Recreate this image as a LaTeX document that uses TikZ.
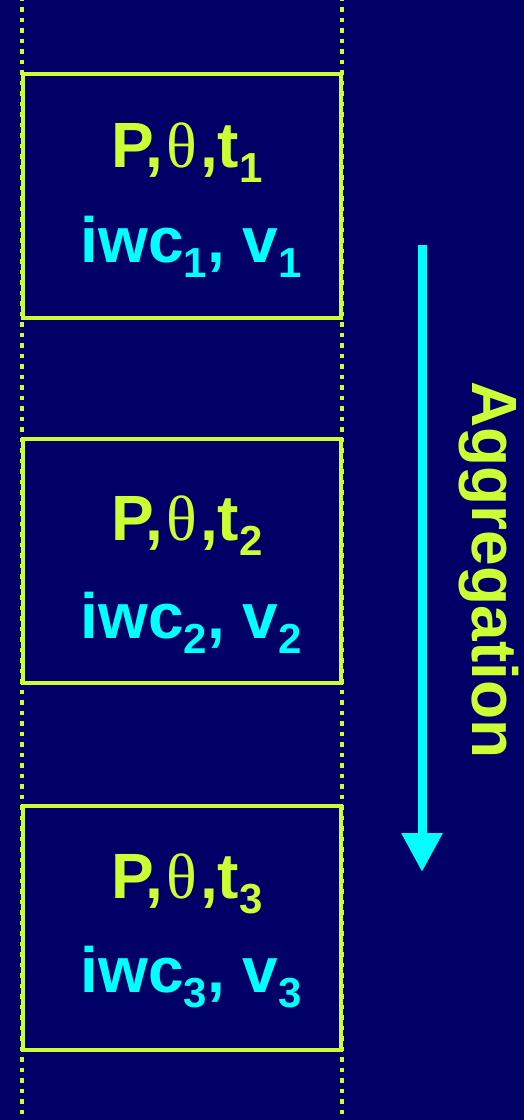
\documentclass[tikz,border=0pt]{standalone}
\usepackage{fontspec}
\setmainfont{Liberation Sans}
\newfontfamily\thetafont{Liberation Serif}
\usetikzlibrary{arrows.meta}
\definecolor{bgnavy}{RGB}{0,0,102}
\definecolor{ygreen}{RGB}{204,255,51}
\definecolor{aqua}{RGB}{0,255,255}
\newcommand{\subnum}[1]{\raisebox{-15bp}{\fontsize{42bp}{42bp}\selectfont #1}}
\newcommand{\ptline}[1]{P,\hspace{3bp}{\thetafont\mdseries θ}\hspace{3bp},t\subnum{#1}}
\newcommand{\iwline}[1]{iwc\subnum{#1}, v\subnum{#1}}
\begin{document}
\begin{tikzpicture}[x=1bp,y=-1bp,
  boxframe/.style={draw=ygreen, line width=4bp, minimum width=317.5bp, minimum height=244bp, inner sep=0pt, outer sep=0pt},
  guideline/.style={draw=ygreen, line width=4bp, dash pattern=on 4.5bp off 6bp},
  bigtext/.style={font=\fontsize{64bp}{70bp}\selectfont\bfseries, inner sep=0pt, anchor=base west},
  ptext/.style={bigtext, text=ygreen},
  itext/.style={bigtext, text=aqua},
  flowarrow/.style={draw=aqua, line width=9bp, -{Triangle[width=39bp,length=39bp]}}]
\fill[bgnavy] (0,0) rectangle (524,1120);
\useasboundingbox (0,0) rectangle (524,1120);
% dotted guide lines
\coordinate (lt) at (22,-3.5);
\coordinate (lb) at (22,1125);
\coordinate (rt) at (342,-3.5);
\coordinate (rb) at (342,1125);
\draw[guideline] (lt) -- (lb);
\draw[guideline] (rt) -- (rb);
% boxes
\node[boxframe] (b1) at (182.25,196.25) {};
\node[boxframe] (b2) at (182.25,561.2) {};
\node[boxframe] (b3) at (182.25,927.5) {};
% texts
\node[ptext] (p1) at (111,167) {\ptline{1}};
\node[itext] (i1) at (80.5,262) {\iwline{1}};
\node[ptext] (p2) at (111,540) {\ptline{2}};
\node[itext] (i2) at (80.5,638) {\iwline{2}};
\node[ptext] (p3) at (111,898) {\ptline{3}};
\node[itext] (i3) at (80.5,992) {\iwline{3}};
% aggregation arrow
\coordinate (as) at (422,245);
\coordinate (ae) at (422,872);
\draw[flowarrow] (as) -- (ae);
\node[font=\fontsize{64bp}{70bp}\selectfont\bfseries, text=ygreen, inner sep=0pt, anchor=base, rotate=-90] (agg) at (472,570) {Aggregation};
\end{tikzpicture}
\end{document}
